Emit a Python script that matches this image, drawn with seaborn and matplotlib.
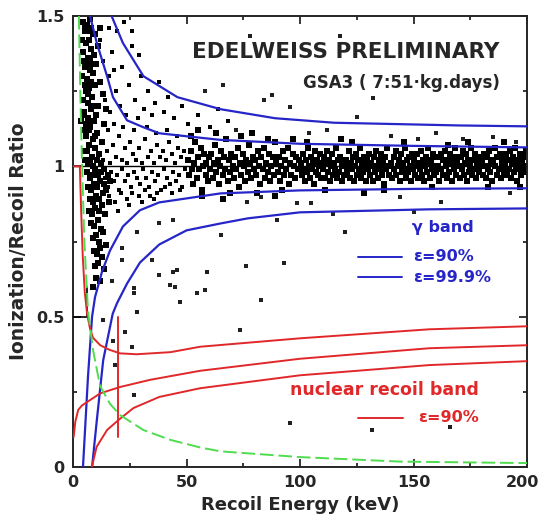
import matplotlib
matplotlib.use('Agg')
import matplotlib.pyplot as plt
import matplotlib.transforms as mtransforms
import seaborn as sns
from matplotlib.ticker import FixedLocator, FixedFormatter

# ---- curves (recoil energy keV, ionization/recoil ratio)
g90_up_E = [7.5, 10.5, 15, 17.6, 23.8, 31, 38, 50, 65, 100, 150, 200]
g90_up_Q = [1.5, 1.41, 1.30, 1.23, 1.153, 1.13, 1.11, 1.10, 1.088, 1.075, 1.068, 1.063]
g999_up_E = [17, 22, 31, 46, 65, 89, 115, 170, 200]
g999_up_Q = [1.5, 1.41, 1.30, 1.23, 1.19, 1.16, 1.145, 1.136, 1.133]
g90_lo_E = [4.4, 6.6, 8.4, 9.7, 12.8, 16.3, 22, 29.5, 38, 47, 65, 100, 150, 200]
g90_lo_Q = [0, 0.3, 0.5, 0.565, 0.65, 0.72, 0.80, 0.854, 0.88, 0.89, 0.91, 0.92, 0.925, 0.927]
g999_lo_E = [8.4, 10.5, 13.3, 17.5, 19.4, 23.8, 29.5, 38, 50, 65, 77, 100, 157, 200]
g999_lo_Q = [0, 0.156, 0.355, 0.51, 0.545, 0.61, 0.68, 0.74, 0.787, 0.81, 0.827, 0.847, 0.857, 0.86]

nr_up_E = [0.3, 3.0, 3.6, 4.3, 5.2, 6.2, 7.5, 8.8, 12, 16, 20.7, 28, 43, 56, 100, 157, 200]
nr_up_Q = [1.0, 1.0, 0.85, 0.70, 0.58, 0.51, 0.46, 0.43, 0.405, 0.39, 0.378, 0.375, 0.382, 0.40, 0.428, 0.458, 0.468]
nr_mid_E = [0.3, 1.0, 2.3, 4, 6, 12, 20.7, 34, 56, 100, 157, 200]
nr_mid_Q = [0.10, 0.15, 0.19, 0.205, 0.215, 0.245, 0.266, 0.29, 0.32, 0.36, 0.395, 0.405]
nr_lo_E = [8.3, 10.4, 15, 20, 26.6, 38, 56, 100, 157, 200]
nr_lo_Q = [0, 0.067, 0.123, 0.156, 0.196, 0.233, 0.262, 0.305, 0.339, 0.352]
cut_E = [20, 20]
cut_Q = [0.10, 0.50]

thr_E = [2.6, 3.2, 4.0, 5.0, 6.6, 8.8, 11.9, 16.3, 20.7, 31, 43, 56, 65, 100, 144, 200]
thr_Q = [1.5, 1.25, 1.0, 0.75, 0.52, 0.39, 0.27, 0.21, 0.173, 0.123, 0.09, 0.065, 0.052, 0.033, 0.018, 0.013]

# ---- events (E, Q), estimated from the scatter
left_column = [
    (4.2,1.48),(5.1,1.45),(6.3,1.47),(7.4,1.49),(8.6,1.44),(5.8,1.41),(7.0,1.42),(4.6,1.38),(6.6,1.36),(8.1,1.39),
    (9.4,1.37),(5.3,1.33),(7.7,1.32),(4.0,1.30),(6.1,1.29),(8.9,1.31),(10.3,1.34),(5.6,1.25),(7.2,1.26),(4.4,1.22),
    (6.8,1.21),(8.4,1.23),(9.8,1.27),(5.0,1.18),(6.4,1.16),(7.9,1.19),(9.2,1.15),(11.2,1.20),(4.7,1.12),(5.9,1.10),
    (7.5,1.13),(8.7,1.09),(10.6,1.11),(6.2,1.05),(7.1,1.07),(8.3,1.03),(9.6,1.06),(5.4,1.02),(11.5,1.04),(12.8,1.08),
    (13.6,1.14),(10.9,1.40),(12.1,1.28),(11.8,1.46),(9.9,1.44),(3.8,1.42),(3.6,1.15),(4.9,1.05),(13.3,1.24),(14.6,1.19),
    (5.5,1.47),(6.9,1.45),(8.0,1.46),(4.8,1.35),(6.0,1.33),(7.3,1.35),(8.8,1.34),(5.2,1.27),(6.5,1.24),(7.8,1.28),
    (9.0,1.20),(4.3,1.17),(5.7,1.14),(6.9,1.12),(8.2,1.15),(9.5,1.10),(10.1,1.17),(6.6,1.01),(7.6,1.02),(8.9,1.00),
    (10.4,1.02),(12.3,1.01),
    (6.0,0.98),(7.3,0.96),(8.5,0.97),(9.7,0.99),(11.0,0.97),(12.4,0.98),(13.8,0.99),(15.2,0.97),(6.8,0.93),(8.0,0.92),
    (9.3,0.94),(10.6,0.93),(12.0,0.95),(13.5,0.94),(7.5,0.89),(8.8,0.88),(10.2,0.90),(11.6,0.89),(13.0,0.91),(14.7,0.92),
    (7.2,0.85),(8.4,0.84),(9.8,0.86),(11.3,0.85),(12.7,0.87),(8.0,0.81),(9.4,0.80),(10.9,0.82),(12.2,0.79),(14.1,0.84),
    (8.6,0.76),(10.0,0.77),(11.5,0.75),(13.2,0.78),(9.1,0.72),(10.5,0.71),(12.0,0.73),(9.6,0.67),(11.1,0.68),(12.9,0.70),
    (10.2,0.63),(11.8,0.62),(9.0,0.60),(13.6,0.66),(15.8,0.88),(16.5,0.95),(14.4,0.74),
]
transition = [
    (14.0,0.96),(15.5,0.93),(16.8,0.98),(17.9,0.95),(19.2,0.97),(20.4,0.92),(21.7,0.99),(23.0,0.95),(24.3,0.97),(25.6,0.93),
    (26.9,0.98),(28.1,0.96),(29.5,0.94),(30.8,0.99),(32.0,0.96),(33.4,0.93),(34.7,0.98),(36.0,0.95),(37.3,0.97),(38.6,0.92),
    (40.0,0.99),(41.3,0.96),(42.6,0.94),(44.0,0.98),(45.3,0.95),(46.6,0.97),(48.0,0.93),(49.2,0.99),
    (16.0,0.90),(18.5,0.88),(21.0,0.91),(23.8,0.89),(26.2,0.91),(29.0,0.90),(31.5,0.92),(34.0,0.90),(37.0,0.91),(40.5,0.93),
    (43.5,0.91),(47.0,0.92),(19.8,0.85),(24.8,0.87),(30.2,0.88),(35.6,0.89),
    (13.2,1.02),(14.8,1.05),(16.2,1.01),(17.5,1.07),(18.9,1.03),(20.1,1.10),(21.4,1.02),(22.7,1.06),(24.0,1.01),(25.3,1.08),
    (26.6,1.04),(27.9,1.02),(29.2,1.06),(30.5,1.01),(31.8,1.09),(33.1,1.03),(34.4,1.05),(35.7,1.01),(37.0,1.07),(38.3,1.03),
    (39.6,1.05),(41.0,1.02),(42.3,1.08),(43.6,1.04),(44.9,1.01),(46.2,1.06),(47.5,1.03),(48.8,1.05),
    (15.5,1.12),(18.0,1.14),(22.0,1.13),(27.0,1.12),(32.5,1.13),(36.5,1.11),(41.5,1.12),(46.0,1.10),
    (14.0,1.22),(15.8,1.30),(16.5,1.18),(17.2,1.38),(18.8,1.25),(19.5,1.45),(20.6,1.20),(21.8,1.33),(23.3,1.17),(24.5,1.27),
    (25.8,1.40),(27.5,1.22),(28.6,1.16),(30.0,1.30),(31.2,1.19),(33.0,1.25),(34.8,1.17),(36.2,1.21),(38.0,1.28),(40.2,1.18),
    (42.0,1.23),(44.5,1.16),(47.8,1.20),(50.5,1.14),(55.0,1.17),(60.5,1.13),(64.0,1.19),(68.5,1.15),(22.5,1.48),(26.0,1.45),
    (29.0,1.37),(16.0,1.46),(13.0,1.35),(12.0,1.42),(18.2,1.32),
]
core_band = [
    (50.5,1.02),(51.2,0.97),(51.8,1.05),(52.3,0.99),(52.9,0.94),(53.4,1.01),(53.8,1.08),(54.5,0.96),(55.1,1.03),(55.6,0.99),
    (56.2,1.06),(56.7,0.92),(57.3,1.00),(57.9,1.04),(58.4,0.97),(58.8,1.01),(59.3,0.95),(59.8,1.03),
    (60.4,0.99),(60.9,1.04),(61.5,0.96),(62.0,1.01),(62.6,1.07),(63.1,0.98),(63.7,1.02),(64.2,0.94),(64.8,1.00),(65.3,1.05),
    (65.9,0.97),(66.4,1.03),(67.0,0.99),(67.6,1.09),(68.1,0.95),(68.7,1.02),(69.2,0.98),(69.8,1.04),
    (70.3,1.00),(70.8,0.96),(71.4,1.03),(71.9,0.99),(72.5,1.06),(73.0,0.93),(73.6,1.01),(74.1,0.97),(74.7,1.04),(75.2,1.00),
    (75.8,0.95),(76.3,1.02),(76.9,0.98),(77.4,1.07),(78.0,1.01),(78.5,0.96),(79.1,1.03),(79.6,0.99),
    (80.2,1.02),(80.7,0.97),(81.3,1.05),(81.8,1.00),(82.4,0.94),(82.9,1.03),(83.5,0.99),(84.0,1.06),(84.6,0.96),(85.1,1.01),
    (85.7,0.98),(86.2,1.04),(86.8,0.95),(87.3,1.00),(87.9,1.03),(88.4,0.97),(89.0,1.08),(89.5,1.01),
    (90.1,0.98),(90.6,1.03),(91.2,0.95),(91.7,1.00),(92.3,1.05),(92.8,0.97),(93.4,1.02),(93.9,0.99),(94.5,1.06),(95.0,0.94),
    (95.6,1.01),(96.1,0.97),(96.7,1.04),(97.2,1.00),(97.8,0.96),(98.3,1.03),(98.9,0.99),(99.4,1.02),
    (100.3,1.01),(100.7,0.97),(101.2,1.04),(101.6,0.99),(102.1,0.95),(102.5,1.02),(103.0,0.98),(103.4,1.06),(103.9,1.00),(104.3,0.96),
    (104.8,1.03),(105.2,0.99),(105.7,1.01),(106.1,0.94),(106.6,1.05),(107.0,0.98),(107.5,1.02),(107.9,0.97),(108.4,1.00),(108.8,1.04),
    (109.3,0.96),(109.7,1.01),
    (110.2,0.99),(110.6,1.03),(111.1,0.96),(111.5,1.01),(112.0,1.05),(112.4,0.98),(112.9,1.02),(113.3,0.95),(113.8,1.00),(114.2,1.04),
    (114.7,0.97),(115.1,1.01),(115.6,0.99),(116.0,1.06),(116.5,0.96),(116.9,1.02),(117.4,0.98),(117.8,1.03),(118.3,1.00),(118.7,0.95),
    (119.2,1.01),(119.6,0.97),
    (120.1,1.02),(120.5,0.98),(121.0,1.00),(121.4,1.05),(121.9,0.96),(122.3,1.01),(122.8,0.99),(123.2,1.03),(123.7,0.95),(124.1,1.00),
    (124.6,1.04),(125.0,0.97),(125.5,1.02),(125.9,0.99),(126.4,1.06),(126.8,0.96),(127.3,1.01),(127.7,0.98),(128.2,1.03),(128.6,1.00),
    (129.1,0.95),(129.5,1.02),
    (130.0,0.99),(130.4,1.04),(130.9,0.97),(131.3,1.01),(131.8,1.00),(132.2,0.95),(132.7,1.03),(133.1,0.98),(133.6,1.05),(134.0,1.00),
    (134.5,0.96),(134.9,1.02),(135.4,0.99),(135.8,1.04),(136.3,0.97),(136.7,1.01),(137.2,0.94),(137.6,1.03),(138.1,0.99),(138.5,1.06),
    (139.0,1.00),(139.4,0.97),
    (140.3,1.01),(140.7,0.96),(141.2,1.03),(141.6,0.99),(142.1,1.05),(142.5,0.97),(143.0,1.00),(143.4,1.02),(143.9,0.95),(144.3,1.04),
    (144.8,0.98),(145.2,1.01),(145.7,0.99),(146.1,1.06),(146.6,0.96),(147.0,1.02),(147.5,0.98),(147.9,1.03),(148.4,1.00),(148.8,0.95),
    (149.3,1.04),(149.7,0.99),
    (150.2,1.02),(150.6,0.97),(151.1,1.00),(151.5,1.04),(152.0,0.96),(152.4,1.01),(152.9,0.99),(153.3,1.05),(153.8,0.97),(154.2,1.02),
    (154.7,0.95),(155.1,1.00),(155.6,1.03),(156.0,0.98),(156.5,1.06),(156.9,1.01),(157.4,0.96),(157.8,1.02),(158.3,0.99),(158.7,1.04),
    (159.2,0.97),(159.6,1.00),
    (160.1,0.98),(160.5,1.03),(161.0,1.00),(161.4,0.95),(161.9,1.04),(162.3,0.99),(162.8,1.02),(163.2,0.97),(163.7,1.05),(164.1,1.00),
    (164.6,0.96),(165.0,1.02),(165.5,0.98),(165.9,1.04),(166.4,1.01),(166.8,0.95),(167.3,1.03),(167.7,0.99),(168.2,1.06),(168.6,0.97),
    (169.1,1.01),(169.5,1.03),
    (170.0,1.00),(170.4,0.96),(170.9,1.03),(171.3,0.99),(171.8,1.05),(172.2,0.97),(172.7,1.01),(173.1,1.04),(173.6,0.95),(174.0,1.02),
    (174.5,0.98),(174.9,1.00),(175.4,1.06),(175.8,0.97),(176.3,1.02),(176.7,0.99),(177.2,1.04),(177.6,0.96),(178.1,1.01),(178.5,1.03),
    (179.0,0.98),(179.4,1.00),
    (180.3,1.02),(180.7,0.97),(181.2,1.04),(181.6,1.00),(182.1,0.96),(182.5,1.03),(183.0,0.99),(183.4,1.05),(183.9,0.98),(184.3,1.01),
    (184.8,0.95),(185.2,1.02),(185.7,1.00),(186.1,1.06),(186.6,0.97),(187.0,1.03),(187.5,0.99),(187.9,1.04),(188.4,0.96),(188.8,1.01),
    (189.3,1.03),(189.7,0.98),
    (190.2,1.00),(190.6,1.04),(191.1,0.97),(191.5,1.02),(192.0,0.99),(192.4,1.05),(192.9,0.96),(193.3,1.01),(193.8,1.03),(194.2,0.98),
    (194.7,1.06),(195.1,1.00),(195.6,0.95),(196.0,1.02),(196.5,0.99),(196.9,1.04),(197.4,0.97),(197.8,1.01),(198.3,1.03),(198.7,0.98),
    (199.2,1.00),(199.6,1.05),
    (52,1.10),(57,0.90),(63,1.11),(69,0.91),(74,1.10),(81,0.91),(86,1.09),(92,0.92),(97,1.09),(55,1.12),
    (66,0.89),(79,1.11),(89,0.90),(103,1.08),(111,0.92),(123,1.08),(137,0.92),(146,1.08),(158,0.93),(174,1.08),
    (183,0.93),(197,0.93),(118,1.09),(128,0.91),(165,1.07),(190,1.08),
]
outliers = [
    (78,1.435),(117.6,1.435),(87.7,1.236),(95.6,1.196),(132,1.226),(125,1.163),(185,1.096),(58,1.25),(72,1.12),(104,1.11),
    (112,1.12),(140,1.10),(152,1.09),(160,1.11),(172,1.09),(195,1.08),(66,1.27),(84,1.22),
    (76.6,0.88),(83,0.897),(98.6,0.877),(105,0.877),(144,0.897),(162,0.88),(192.5,0.91),(90,0.82),(114.5,0.843),(150,0.847),
    (65,0.77),(120,0.78),(83,0.555),(73.6,0.455),(93,0.68),(95.6,0.146),(131.7,0.123),(166,0.133),(76,0.67),(58,0.59),
    (38,0.81),(44,0.82),(28,0.78),(21.6,0.69),(35,0.69),(38,0.64),(44,0.65),(46,0.655),(59,0.65),(45,0.60),
    (54.6,0.58),(27,0.595),(47,0.55),(28,0.515),(17,0.62),(21.6,0.73),(27,0.58),(42.7,0.605),(23,0.45),(13,0.49),
    (17.6,0.42),(26,0.40),(18.5,0.34),(27,0.24),
]

dense = left_column + core_band
BLUE = '#2626c8'
RED = '#e0282a'
GREEN = '#4fdc4f'

sns.set_style('ticks')
plt.rcParams['font.family'] = ['DejaVu Sans', 'Noto Sans']
plt.rcParams['font.weight'] = 'bold'

fig = plt.figure(figsize=(5.42, 5.20), dpi=100)
ax = fig.add_axes([73/542, 1 - 467/520, 454/542, 451/520])

ax.axhline(1.0, color='black', lw=1.0, zorder=1)
sns.scatterplot(x=[p[0] for p in dense], y=[p[1] for p in dense], ax=ax, color='black',
                marker='s', s=13, linewidth=0, zorder=2)
sns.scatterplot(x=[p[0] for p in transition], y=[p[1] for p in transition], ax=ax, color='black',
                marker='s', s=10, linewidth=0, zorder=2)
sns.scatterplot(x=[p[0] for p in outliers], y=[p[1] for p in outliers], ax=ax, color='#202020',
                marker='s', s=7, linewidth=0, zorder=2)

for E, Q in [(g90_up_E, g90_up_Q), (g999_up_E, g999_up_Q), (g90_lo_E, g90_lo_Q), (g999_lo_E, g999_lo_Q)]:
    sns.lineplot(x=E, y=Q, ax=ax, color=BLUE, lw=1.6, sort=False, estimator=None, zorder=4)
for E, Q in [(nr_up_E, nr_up_Q), (nr_mid_E, nr_mid_Q), (nr_lo_E, nr_lo_Q), (cut_E, cut_Q)]:
    sns.lineplot(x=E, y=Q, ax=ax, color=RED, lw=1.4, sort=False, estimator=None, zorder=4)
sns.lineplot(x=thr_E, y=thr_Q, ax=ax, color=GREEN, lw=1.4, sort=False, estimator=None,
             zorder=5).lines[-1].set_dashes([7, 2.5])
ax.plot([0, 6, 6], [0.5, 0.5, 0.6], color='black', lw=1.2, zorder=3)

ax.set_xlim(0, 200)
ax.set_ylim(0, 1.5)
ax.xaxis.set_major_locator(FixedLocator([0, 50, 100, 150, 200]))
ax.xaxis.set_minor_locator(FixedLocator([25, 75, 125, 175]))
ax.yaxis.set_major_locator(FixedLocator([0, 0.5, 1, 1.5]))
ax.yaxis.set_major_formatter(FixedFormatter(['0', '0.5', '1', '1.5']))
ax.yaxis.set_minor_locator(FixedLocator([0.25, 0.75, 1.25]))
ax.tick_params(which='both', direction='in', top=True, right=True, width=1.3, labelsize=11.5, pad=6)
ax.tick_params(which='major', length=6)
ax.tick_params(which='minor', length=3)
for lab in ax.get_xticklabels() + ax.get_yticklabels():
    lab.set_fontweight('bold')
# keep the last x label inside the canvas
last = ax.get_xticklabels()[-1]
last.set_transform(last.get_transform() + mtransforms.ScaledTranslation(-5/100, 0, fig.dpi_scale_trans))
for sp in ax.spines.values():
    sp.set_linewidth(1.4)

ax.set_xlabel('Recoil Energy (keV)', fontsize=13, fontweight='bold', labelpad=4)
ax.set_ylabel('Ionization/Recoil Ratio', fontsize=13.5, fontweight='bold', labelpad=6)

ax.text(0.94, 0.92, 'EDELWEISS PRELIMINARY', transform=ax.transAxes, ha='right', va='center',
        fontsize=15.5, fontweight='bold')
ax.text(0.94, 0.851, 'GSA3 ( 7:51·kg.days)', transform=ax.transAxes, ha='right', va='center',
        fontsize=12, fontweight='bold')
ax.text(0.747, 0.532, 'γ band', transform=ax.transAxes, ha='left', va='center',
        fontsize=11.5, fontweight='bold', color=BLUE)
ax.plot([0.628, 0.725], [0.466, 0.466], transform=ax.transAxes, color=BLUE, lw=1.4)
ax.text(0.749, 0.466, 'ε=90%', transform=ax.transAxes, ha='left', va='center',
        fontsize=11.5, fontweight='bold', color=BLUE)
ax.plot([0.628, 0.725], [0.421, 0.421], transform=ax.transAxes, color=BLUE, lw=1.4)
ax.text(0.749, 0.421, 'ε=99.9%', transform=ax.transAxes, ha='left', va='center',
        fontsize=11.5, fontweight='bold', color=BLUE)
ax.text(0.478, 0.171, 'nuclear recoil band', transform=ax.transAxes, ha='left', va='center',
        fontsize=12.5, fontweight='bold', color=RED)
ax.plot([0.628, 0.727], [0.109, 0.109], transform=ax.transAxes, color=RED, lw=1.4)
ax.text(0.76, 0.109, 'ε=90%', transform=ax.transAxes, ha='left', va='center',
        fontsize=11.5, fontweight='bold', color=RED)

fig.savefig('out.png', dpi=100)
